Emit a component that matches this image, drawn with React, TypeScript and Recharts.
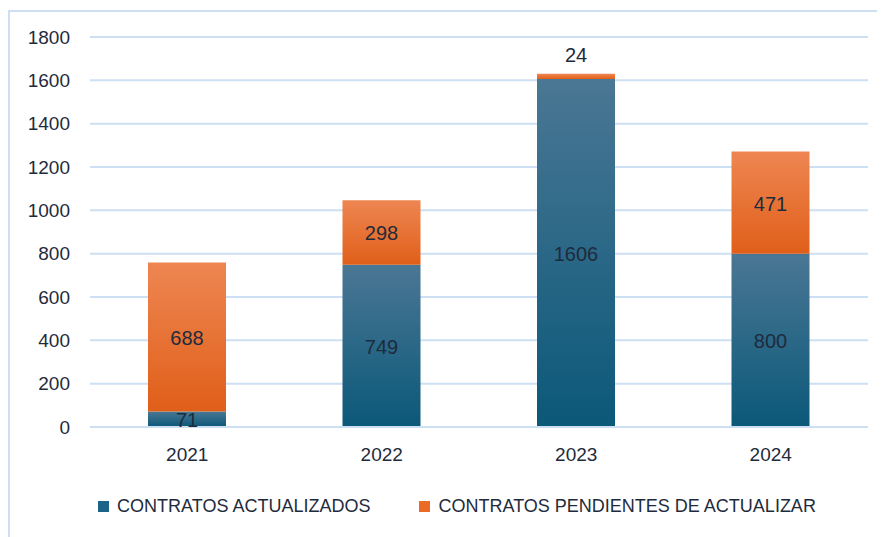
import React from "react";
import { ComposedChart, Bar, XAxis, YAxis, CartesianGrid, Legend, LabelList } from "recharts";

const years = ["2021", "2022", "2023", "2024"];
const actualizados = [71, 749, 1606, 800];
const pendientes = [688, 298, 24, 471];
const yTicks = [0, 200, 400, 600, 800, 1000, 1200, 1400, 1600, 1800];
const seriesNames = ["CONTRATOS ACTUALIZADOS", "CONTRATOS PENDIENTES DE ACTUALIZAR"];

const data = years.map((y, i) => ({ year: y, act: actualizados[i], pen: pendientes[i] }));

const FONT = "'Liberation Sans', Arial, sans-serif";
const TEXT = "#1E2B3C";
const GRID = "#CCDFF3";

const renderLabel = (props: any) => {
  const { x, y, width, height, value } = props;
  const cx = x + width / 2;
  if (value < 50 && height < 20 && value !== 71) {
    return (
      <text x={cx} y={y - 19} textAnchor="middle" dominantBaseline="central" fill={TEXT} fontSize={20} fontFamily={FONT}>
        {value}
      </text>
    );
  }
  return (
    <text x={cx} y={y + height / 2 + 1} textAnchor="middle" dominantBaseline="central" fill={TEXT} fontSize={20} fontFamily={FONT}>
      {value}
    </text>
  );
};

const renderLegend = () => (
  <div style={{ display: "flex", justifyContent: "center", paddingTop: 19, paddingLeft: 38, fontFamily: FONT, fontSize: 18, color: TEXT }}>
    <div style={{ display: "flex", alignItems: "center", marginRight: 49 }}>
      <span style={{ width: 11, height: 11, background: "#1B6487", display: "inline-block", marginRight: 8 }} />
      <span>{seriesNames[0]}</span>
    </div>
    <div style={{ display: "flex", alignItems: "center" }}>
      <span style={{ width: 11, height: 11, background: "#EA6A26", display: "inline-block", marginRight: 8 }} />
      <span>{seriesNames[1]}</span>
    </div>
  </div>
);

export default function App() {
  return (
    <div style={{ position: "relative", width: 877, height: 529 }}>
      <div style={{ position: "absolute", left: 0, top: 2, width: 877, height: 527, borderTop: `2px solid ${GRID}`, borderLeft: `2px solid ${GRID}`, boxSizing: "border-box" }} />
      <ComposedChart width={877} height={529} data={data} margin={{ top: 29, right: 17, bottom: 20, left: 0 }}>
        <defs>
          <linearGradient id="gBlue" x1="0" y1="0" x2="0" y2="1">
            <stop offset="0%" stopColor="#4A7794" />
            <stop offset="100%" stopColor="#0B5879" />
          </linearGradient>
          <linearGradient id="gOrange" x1="0" y1="0" x2="0" y2="1">
            <stop offset="0%" stopColor="#EE8652" />
            <stop offset="100%" stopColor="#E05F19" />
          </linearGradient>
        </defs>
        <CartesianGrid vertical={false} stroke={GRID} strokeWidth={2} />
        <XAxis
          dataKey="year"
          axisLine={{ stroke: GRID, strokeWidth: 2 }}
          tickLine={false}
          tickSize={0}
          tickMargin={21}
          height={50}
          tick={{ fill: TEXT, fontSize: 19, fontFamily: FONT }}
        />
        <YAxis
          domain={[0, 1800]}
          ticks={yTicks}
          axisLine={false}
          tickLine={false}
          tickSize={0}
          tickMargin={20}
          width={82}
          interval={0}
          tick={{ fill: TEXT, fontSize: 19, fontFamily: FONT }}
        />
        <Legend verticalAlign="bottom" height={40} content={renderLegend} />
        <Bar dataKey="act" stackId="s" name={seriesNames[0]} fill="url(#gBlue)" barSize={78} isAnimationActive={false}>
          <LabelList dataKey="act" content={renderLabel} />
        </Bar>
        <Bar dataKey="pen" stackId="s" name={seriesNames[1]} fill="url(#gOrange)" barSize={78} isAnimationActive={false}>
          <LabelList dataKey="pen" content={renderLabel} />
        </Bar>
      </ComposedChart>
    </div>
  );
}
